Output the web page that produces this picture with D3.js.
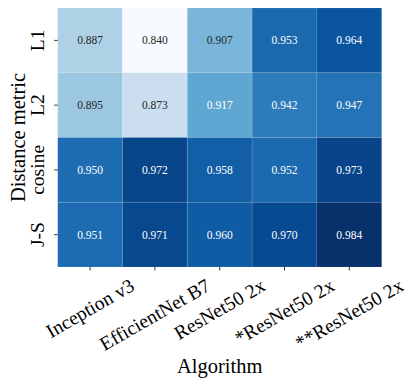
<!DOCTYPE html>
<html>
<head>
<meta charset="utf-8">
<script src="https://cdn.jsdelivr.net/npm/d3@7"></script>
<style>
  body { margin: 0; background: #fff; }
  svg { display: block; }
  text { font-family: "Liberation Serif", "DejaVu Serif", serif; }
</style>
</head>
<body>
<svg id="chart" width="415" height="386"></svg>
<script>
// Categories
const algorithms = ["Inception v3", "EfficientNet B7", "ResNet50 2x", "*ResNet50 2x", "**ResNet50 2x"];
const metrics = ["L1", "L2", "cosine", "J-S"];

// One row of scores per distance metric, in algorithm order
const scoresL1 = [0.887, 0.840, 0.907, 0.953, 0.964];
const scoresL2 = [0.895, 0.873, 0.917, 0.942, 0.947];
const scoresCosine = [0.950, 0.972, 0.958, 0.952, 0.973];
const scoresJS = [0.951, 0.971, 0.960, 0.970, 0.984];
const scoreRows = [scoresL1, scoresL2, scoresCosine, scoresJS];

// matplotlib "Blues" anchor colours
const BLUES = ["#f7fbff", "#deebf7", "#c6dbef", "#9ecae1", "#6baed6", "#4292c6", "#2171b5", "#08519c", "#08306b"];

const LEFT = 57.7, RIGHT = 381.7, TOP = 8, BOTTOM = 267;
const TICK_FONT = 19.5;

let svg = d3.select('#chart');

let cells = [];
scoreRows.forEach((row, r) => {
	row.forEach((v, c) => cells.push({metric: metrics[r], algo: algorithms[c], value: v}));
});

let allValues = cells.map(d => d.value);
let vmin = d3.min(allValues), vmax = d3.max(allValues);

let x = d3.scaleBand().domain(algorithms).range([LEFT, RIGHT]);
let y = d3.scaleBand().domain(metrics).range([TOP, BOTTOM]);

let color = d3.scaleLinear()
	.domain(BLUES.map((_, i) => vmin + (vmax - vmin) * i / (BLUES.length - 1)))
	.range(BLUES)
	.interpolate(d3.interpolateRgb);

// seaborn picks annotation colour from the cell luminance
function luminance(c) {
	let rgb = d3.rgb(c);
	let lin = [rgb.r, rgb.g, rgb.b].map(v => {
		v /= 255;
		return v <= 0.03928 ? v / 12.92 : Math.pow((v + 0.055) / 1.055, 2.4);
	});
	return 0.2126 * lin[0] + 0.7152 * lin[1] + 0.0722 * lin[2];
}

svg.append('g').selectAll('rect')
	.data(cells)
	.join('rect')
	.attr('x', d => x(d.algo))
	.attr('y', d => y(d.metric))
	.attr('width', x.bandwidth())
	.attr('height', y.bandwidth())
	.attr('fill', d => color(d.value))
	.attr('stroke', 'rgba(255,255,255,0.12)')
	.attr('stroke-width', 0.8);

svg.append('g').selectAll('text')
	.data(cells)
	.join('text')
	.attr('x', d => x(d.algo) + x.bandwidth() / 2)
	.attr('y', d => y(d.metric) + y.bandwidth() / 2)
	.attr('text-anchor', 'middle')
	.attr('dominant-baseline', 'central')
	.attr('font-size', 11.5)
	.attr('fill', d => luminance(color(d.value)) > 0.408 ? '#262626' : '#ffffff')
	.text(d => d.value.toFixed(3));

// x axis, labels rotated 30deg and centred on the tick
let xAxis = svg.append('g')
	.attr('transform', `translate(0,${BOTTOM})`)
	.call(d3.axisBottom(x).tickSize(3.5).tickSizeOuter(0));
xAxis.select('.domain').remove();
xAxis.selectAll('.tick line').attr('stroke', '#000').attr('stroke-width', 0.8);
xAxis.selectAll('.tick text')
	.attr('font-size', TICK_FONT)
	.attr('fill', '#000')
	.attr('dy', null)
	.attr('y', 0)
	.attr('dominant-baseline', 'central')
	.attr('text-anchor', 'middle')
	.each(function() {
		let len = this.getComputedTextLength();
		let ang = Math.PI / 6;
		let boxH = len * Math.sin(ang) + TICK_FONT * 1.05 * Math.cos(ang);
		let cy = 8 + boxH / 2;
		d3.select(this).attr('transform', `translate(0,${cy}) rotate(-30)`);
	});

// y axis, vertical labels
let yAxis = svg.append('g')
	.attr('transform', `translate(${LEFT},0)`)
	.call(d3.axisLeft(y).tickSize(3.5).tickSizeOuter(0));
yAxis.select('.domain').remove();
yAxis.selectAll('.tick line').attr('stroke', '#000').attr('stroke-width', 0.8);
yAxis.selectAll('.tick text')
	.attr('font-size', TICK_FONT)
	.attr('fill', '#000')
	.attr('x', 0)
	.attr('dy', null)
	.attr('text-anchor', 'middle')
	.attr('transform', 'translate(-13.5,0) rotate(-90)');

// axis titles
svg.append('text')
	.attr('x', (LEFT + RIGHT) / 2)
	.attr('y', 373)
	.attr('text-anchor', 'middle')
	.attr('font-size', 20.5)
	.text('Algorithm');

svg.append('text')
	.attr('transform', `translate(25,${(TOP + BOTTOM) / 2}) rotate(-90)`)
	.attr('text-anchor', 'middle')
	.attr('font-size', 20.5)
	.text('Distance metric');
</script>
</body>
</html>
